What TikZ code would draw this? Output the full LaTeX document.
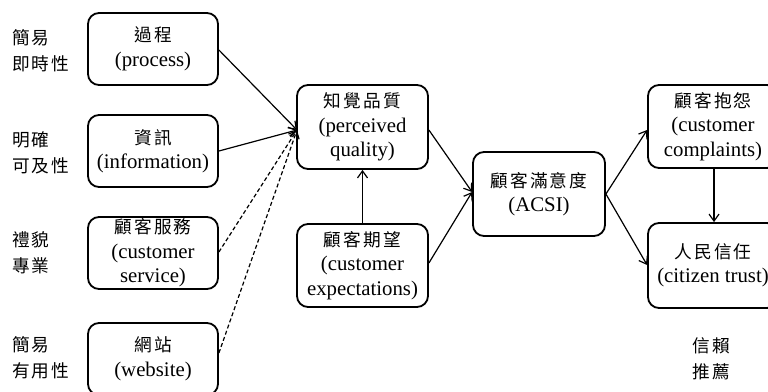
\documentclass[tikz,border=0pt]{standalone}
\usepackage{fontspec}
\setmainfont{Liberation Serif}
\newfontfamily\cjk{Noto Sans CJK TC}[Scale=0.85,LetterSpace=12]
\usetikzlibrary{arrows.meta}
\begin{document}
\begin{tikzpicture}[x=1pt,y=-1pt,
  box/.style={draw,line width=1.8pt,rounded corners=11pt,align=center,
    minimum width=130pt,inner sep=0pt,
    font=\fontsize{20.8}{24.5}\selectfont},
  side/.style={anchor=west,align=left,inner sep=0pt,
    font=\fontsize{20.8}{26}\selectfont\cjk},
  link/.style={-{Straight Barb[length=7pt,width=10pt]},line width=1.2pt},
  weak/.style={link,dashed,dash pattern=on 4pt off 2.5pt}]
\useasboundingbox (0,0) rectangle (768,391);

% service dimensions
\node[box,minimum height=72pt] (proc) at (153,49) {{\cjk 過程}\\(process)};
\node[box,minimum height=72pt] (info) at (153,151) {{\cjk 資訊}\\(information)};
\node[box,minimum height=72pt] (serv) at (153,253) {{\cjk 顧客服務}\\(customer\\service)};
\node[box,minimum height=72pt] (web) at (153,359) {{\cjk 網站}\\(website)};

% criteria beside each dimension
\node[side] (l1) at (12,51) {簡易\\即時性};
\node[side] (l2) at (12,153) {明確\\可及性};
\node[side] (l3) at (12,253) {禮貌\\專業};
\node[side] (l4) at (12,358) {簡易\\有用性};

% core model
\node[box,minimum height=84pt,minimum width=131pt] (pq) at (362.5,127) {{\cjk 知覺品質}\\(perceived\\quality)};
\node[box,minimum height=83pt,minimum width=131pt] (exp) at (362.5,265.5) {{\cjk 顧客期望}\\(customer\\expectations)};
\node[box,minimum height=84pt,minimum width=132pt] (acsi) at (539,194) {{\cjk 顧客滿意度}\\(ACSI)};
\node[box,minimum height=83pt] (comp) at (713,126.5) {{\cjk 顧客抱怨}\\(customer\\complaints)};
\node[box,minimum height=85pt] (trust) at (713,265.5) {{\cjk 人民信任}\\(citizen trust)};
\node[side,anchor=north] (l5) at (711,337) {信賴\\推薦};

% connectors
\coordinate (in) at (297,130);
\draw[link] (proc.east |- 0,50) -- (in);
\draw[link] (info.east |- 0,151) -- (in);
\draw[weak] (serv.east |- 0,252) -- (in);
\draw[weak] (web.east |- 0,353) -- (in);
\draw[link] (exp.north) -- (pq.south);
\draw[link] (pq.east |- 0,130) -- (acsi.west |- 0,192);
\draw[link] (exp.east |- 0,263) -- (acsi.west |- 0,192);
\draw[link] (acsi.east |- 0,194) -- (comp.west |- 0,130);
\draw[link] (acsi.east |- 0,194) -- (trust.west |- 0,265);
\draw[link] (comp.south -| 714,0) -- (trust.north -| 714,0);
\end{tikzpicture}
\end{document}
